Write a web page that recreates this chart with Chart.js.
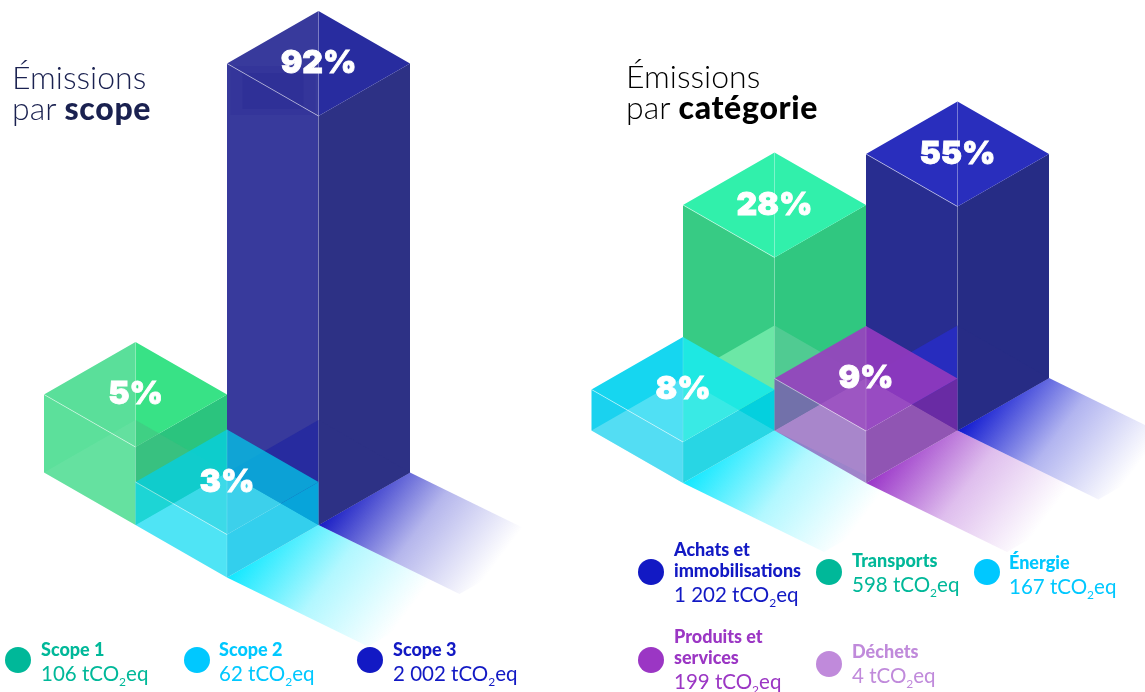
<!DOCTYPE html>
<html lang="fr">
<head>
<meta charset="utf-8">
<title>Émissions</title>
<script src="https://cdn.jsdelivr.net/npm/chart.js@4/dist/chart.umd.min.js"></script>
<style>
  html, body { margin: 0; padding: 0; background: #fff; overflow: hidden; }
  #wrap { position: relative; width: 1145px; height: 692px; overflow: hidden; font-family: Lato, sans-serif; }
  #myChart { position: absolute; left: 0; top: 0; }
  .title { position: absolute; font-size: 32px; line-height: 31px; font-weight: 300; }
  .title b { font-weight: 900; letter-spacing: .7px; }
  .dot { position: absolute; width: 26px; height: 26px; border-radius: 50%; }
  .lab { position: absolute; white-space: nowrap; }
  .lab b { display: block; font-size: 18px; line-height: 21px; font-weight: 900; }
  .lab span { display: block; font-size: 20.5px; line-height: 26px; font-weight: 400; }
  .lab sub { font-size: 12px; line-height: 0; }
</style>
</head>
<body>
<div id="wrap">
  <canvas id="myChart" width="1145" height="692"></canvas>
  <div class="title" style="left:12px;top:61px;color:#1a2150">Émissions<br>par <b>scope</b></div>
  <div class="title" style="left:626px;top:60px;color:#000">Émissions<br>par <b>catégorie</b></div>
</div>
<script>
// scope bars
const scopeLabels = ["Scope 1", "Scope 2", "Scope 3"];
const scopeTonnes = ["106", "62", "2 002"];
const scopeShares = [5, 3, 92];
const scopeHeights = [78, 43, 409];
const scopeCols = [0, 1, 1];
const scopeRows = [0, 0, -1];

// category bars (Déchets is in the legend but has no bar)
const catLabels = ["Énergie", "Transports", "Produits et<br>services", "Achats et<br>immobilisations"];
const catTonnes = ["167", "598", "199", "1 202"];
const catShares = [8, 28, 9, 55];
const catHeights = [41, 173, 52, 224];
const catCols = [0, 0, 1, 1];
const catRows = [0, -1, -1, -2];

const wasteLabel = "Déchets";
const wasteTonnes = "4";

const blue = "#1219c4", teal = "#00b899", sky = "#00c8ff", purple = "#9b36c4", lilac = "#c08adb";

const scopeColors = [
  { left: "#5ce09b", right: "#2bc47e", topL: "#5adf9a", topR: "#38e286", floorL: "rgba(255,255,255,.06)", floorR: "rgba(70,190,130,.5)" },
  { left: "rgba(20,219,241,.75)", right: "rgba(0,195,232,.8)", topL: "rgba(5,208,225,.78)", topR: "rgba(5,195,230,.78)", shadow: "16,232,255" },
  { left: "#383a9c", right: "#2d3185", topL: "#383a9c", topR: "#282c9f", floorL: "#272b9f", floorR: "#2d3185", shadow: "24,28,196", glow: true },
];
const catColors = [
  { left: "#1ad2ef", right: "rgba(0,207,224,.96)", topL: "#16d6f0", topR: "#1ee8e2", floorL: "rgba(255,255,255,.25)", floorR: "rgba(255,255,255,.12)", shadow: "16,232,255" },
  { left: "#37cb84", right: "#30c780", topL: "#31f0ab", topR: "#31f0ab", floorL: "#6ce7a6", floorR: "#50cb92" },
  { left: "rgba(128,78,179,.72)", right: "rgba(118,44,160,.85)", topL: "rgba(148,70,188,.96)", topR: "rgba(142,57,188,.96)", floorL: "rgba(255,255,255,.05)", floorR: "rgba(255,255,255,.05)", shadow: "154,53,200" },
  { left: "#282d90", right: "#262c85", topL: "#292ebd", topR: "#292ebd", floorL: "#272cbe", floorR: "#272c85", shadow: "15,24,208" },
];

// isometric grid
const halfW = 91.5, halfH = 52.5;
const shadowDx = 141, shadowDy = 69;
const groups = [
  { ox: 135.5, oy: 525, cols: scopeCols, rows: scopeRows, heights: scopeHeights, shares: scopeShares, colors: scopeColors },
  { ox: 683, oy: 483, cols: catCols, rows: catRows, heights: catHeights, shares: catShares, colors: catColors },
];

const pts = (list) => list.map(([x, y]) => ({ x, y }));

function polygon(list, color) {
  return {
    data: pts(list.concat([list[0]])),
    showLine: true,
    fill: "shape",
    backgroundColor: color,
    borderWidth: 0,
    pointRadius: 0,
    tension: 0,
  };
}

function stroke(list, color, width) {
  return {
    data: pts(list),
    showLine: true,
    fill: false,
    borderColor: color,
    borderWidth: width,
    pointRadius: 0,
    tension: 0,
  };
}

function shadowFill(x, y, rgb) {
  return (c) => {
    const chart = c.chart;
    if (!chart.chartArea) return "transparent";
    const sx = chart.scales.x, sy = chart.scales.y;
    const g = chart.ctx.createLinearGradient(
      sx.getPixelForValue(x), sy.getPixelForValue(y),
      sx.getPixelForValue(x + 132), sy.getPixelForValue(y + 99)
    );
    g.addColorStop(0, "rgba(" + rgb + ",1)");
    g.addColorStop(0.5, "rgba(" + rgb + ",.32)");
    g.addColorStop(1, "rgba(" + rgb + ",0)");
    return g;
  };
}

const datasets = [];
const percentLabels = [];

groups.forEach((gr) => {
  const bars = gr.heights.map((h, i) => {
    const x = gr.ox + (gr.cols[i] - gr.rows[i]) * halfW;
    const y = gr.oy + (gr.cols[i] + gr.rows[i]) * halfH;
    return { x, y, h, order: gr.cols[i] + gr.rows[i], color: gr.colors[i], share: gr.shares[i] };
  });

  // floor shadows go under everything
  bars.forEach((b) => {
    if (!b.color.shadow) return;
    datasets.push(polygon(
      [[b.x, b.y], [b.x + halfW, b.y - halfH], [b.x + halfW + shadowDx, b.y - halfH + shadowDy], [b.x + shadowDx, b.y + shadowDy]],
      shadowFill(b.x, b.y, b.color.shadow)
    ));
  });

  bars.slice().sort((a, b) => a.order - b.order).forEach((b) => {
    const { x, y, h, color } = b;
    const top = y - h;
    datasets.push(polygon([[x - halfW, top - halfH], [x, top], [x, y], [x - halfW, y - halfH]], color.left));
    datasets.push(polygon([[x + halfW, top - halfH], [x, top], [x, y], [x + halfW, y - halfH]], color.right));
    datasets.push(polygon([[x - halfW, top - halfH], [x, top - 2 * halfH], [x, top]], color.topL));
    datasets.push(polygon([[x + halfW, top - halfH], [x, top - 2 * halfH], [x, top]], color.topR));
    if (color.floorL) {
      datasets.push(polygon([[x - halfW, y - halfH], [x, y - 2 * halfH], [x, y]], color.floorL));
      datasets.push(polygon([[x + halfW, y - halfH], [x, y - 2 * halfH], [x, y]], color.floorR));
    }
    if (color.glow) {
      // faint dark patch under the top face of the tall bar
      datasets.push(polygon([[x - 88, top - 50], [x - 3, top - 50], [x - 3, top - 1], [x - 88, top - 1]], "rgba(30,30,140,.16)"));
      datasets.push(polygon([[x - 76, top - 43], [x - 15, top - 43], [x - 15, top - 7], [x - 76, top - 7]], "rgba(30,30,140,.2)"));
    }
    datasets.push(stroke([[x, top - 2 * halfH], [x, top], [x, y]], "rgba(255,255,255,.06)", 1));
    datasets.push(stroke([[x - halfW, top - halfH], [x, top]], "rgba(255,255,255,.5)", 1));
    percentLabels.push({ text: b.share + "%", x, y: top - halfH });
  });
});

// chart.js paints dataset 0 last, we pushed back to front
datasets.reverse();

const percentPlugin = {
  id: "percentLabels",
  afterDatasetsDraw(chart) {
    const { ctx, scales } = chart;
    ctx.save();
    ctx.fillStyle = "#fff";
    ctx.strokeStyle = "#fff";
    ctx.lineWidth = 0.8;
    ctx.font = "900 32px Inter, sans-serif";
    ctx.textAlign = "center";
    ctx.textBaseline = "middle";
    percentLabels.forEach((l) => {
      const px = scales.x.getPixelForValue(l.x), py = scales.y.getPixelForValue(l.y);
      ctx.fillText(l.text, px, py);
      ctx.strokeText(l.text, px, py);
    });
    ctx.restore();
  },
};

const myChart = new Chart(document.querySelector("#myChart"), {
  type: "scatter",
  data: { datasets },
  options: {
    responsive: false,
    animation: false,
    events: [],
    layout: { padding: 0 },
    plugins: { legend: { display: false }, tooltip: { enabled: false } },
    scales: {
      x: { type: "linear", display: false, min: 0, max: 1145 },
      y: { type: "linear", display: false, min: 0, max: 692, reverse: true },
    },
  },
  plugins: [percentPlugin],
});

// legends
const wrap = document.querySelector("#wrap");
function addLegend(name, tonnes, color, dotX, dotY, textX, textY) {
  const dot = document.createElement("div");
  dot.className = "dot";
  dot.style.cssText = "left:" + (dotX - 13) + "px;top:" + (dotY - 13) + "px;background:" + color;
  wrap.appendChild(dot);
  const lab = document.createElement("div");
  lab.className = "lab";
  lab.style.cssText = "left:" + textX + "px;top:" + textY + "px;color:" + color;
  lab.innerHTML = "<b>" + name + "</b><span>" + tonnes + " tCO<sub>2</sub>eq</span>";
  wrap.appendChild(lab);
}

addLegend(scopeLabels[0], scopeTonnes[0], teal, 18, 660, 41, 639);
addLegend(scopeLabels[1], scopeTonnes[1], sky, 197, 660, 219, 639);
addLegend(scopeLabels[2], scopeTonnes[2], blue, 370, 660, 393, 639);
addLegend(catLabels[3], catTonnes[3], blue, 651, 572, 674, 539);
addLegend(catLabels[1], catTonnes[1], teal, 829, 572, 852, 550);
addLegend(catLabels[0], catTonnes[0], sky, 987, 572, 1009, 552);
addLegend(catLabels[2], catTonnes[2], purple, 651, 660, 674, 626);
addLegend(wasteLabel, wasteTonnes, lilac, 829, 664, 852, 641);
</script>
</body>
</html>
